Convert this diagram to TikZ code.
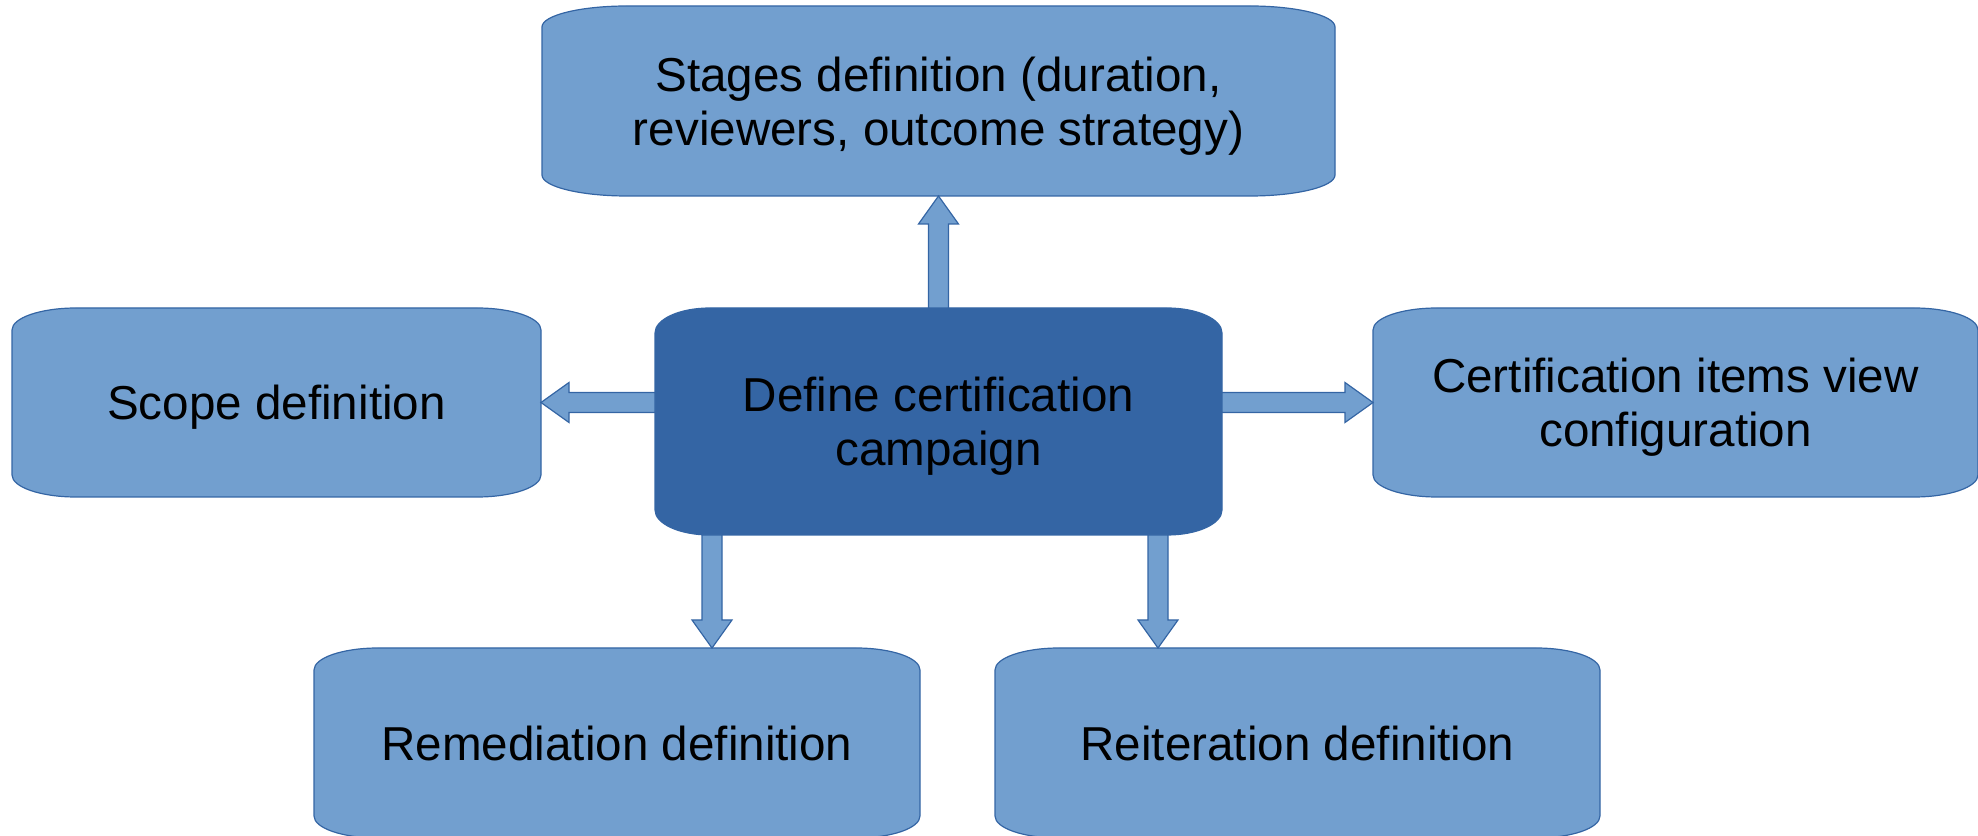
\documentclass[tikz,border=0pt]{standalone}
\usepackage{fontspec}
\setmainfont{Liberation Sans}
\usepackage{xcolor}
\usepackage{tikz}
\usetikzlibrary{calc,backgrounds}
\definecolor{lightblue}{HTML}{729FCF}
\definecolor{darkblue}{HTML}{3465A4}
\newcommand{\ovalframe}[4]{%
  \draw[#4] ([xshift=#2]#1.north west) -- ([xshift=-#2]#1.north east)
    arc[start angle=90, end angle=0, x radius=#2, y radius=#3]
    -- ([yshift=#3]#1.south east)
    arc[start angle=0, end angle=-90, x radius=#2, y radius=#3]
    -- ([xshift=#2]#1.south west)
    arc[start angle=270, end angle=180, x radius=#2, y radius=#3]
    -- ([yshift=-#3]#1.north west)
    arc[start angle=180, end angle=90, x radius=#2, y radius=#3] -- cycle;}
\newcommand{\fatarrow}[2]{%
  \draw[fatarrow] let \p1=(#1), \p2=(#2),
    \n1={atan2(\y2-\y1,\x2-\x1)}, \n2={veclen(\x2-\x1,\y2-\y1)} in
    ($(\p1)+(\n1+90:5pt)$)
    -- ($(\p1)+(\n1:{\n2*1pt-14pt})+(\n1+90:5pt)$)
    -- ($(\p1)+(\n1:{\n2*1pt-14pt})+(\n1+90:10pt)$)
    -- (\p2)
    -- ($(\p1)+(\n1:{\n2*1pt-14pt})+(\n1-90:10pt)$)
    -- ($(\p1)+(\n1:{\n2*1pt-14pt})+(\n1-90:5pt)$)
    -- ($(\p1)+(\n1-90:5pt)$) -- cycle;}

\begin{document}
\begin{tikzpicture}[x=0.5pt,y=0.5pt,
  textbox/.style={inner sep=0pt,outer sep=0pt,align=center,text depth=0pt,
    font=\fontsize{23.8pt}{27pt}\selectfont},
  lightfill/.style={fill=lightblue,draw=darkblue,line width=0.6pt},
  darkfill/.style={fill=darkblue,draw=darkblue,line width=0.6pt},
  fatarrow/.style={fill=lightblue,draw=darkblue,line width=0.6pt,line join=miter}]
\useasboundingbox (0,0) rectangle (1978,836);
\node[textbox,minimum width=396.5pt,minimum height=95pt] (stages) at (938.5,735) {Stages definition (duration,\\reviewers, outcome strategy)};
\node[textbox,minimum width=283.5pt,minimum height=113.5pt] (campaign) at (938.5,414.5) {Define certification\\campaign};
\node[textbox,minimum width=264.5pt,minimum height=94.5pt] (scope) at (276.5,433.5) {Scope definition};
\node[textbox,minimum width=302.5pt,minimum height=94.5pt] (items) at (1675.5,433.5) {Certification items view\\configuration};
\node[textbox,minimum width=303pt,minimum height=95pt] (remediation) at (617,93) {Remediation definition};
\node[textbox,minimum width=302.5pt,minimum height=95pt] (reiteration) at (1297.5,93) {Reiteration definition};
\coordinate (remtip) at ([xshift=47.5pt]remediation.north);
\coordinate (reitip) at ([xshift=-69.75pt]reiteration.north);
\begin{scope}[on background layer]
\ovalframe{stages}{42.5pt}{10.5pt}{lightfill}
\ovalframe{campaign}{27.5pt}{12.5pt}{darkfill}
\ovalframe{scope}{32pt}{11pt}{lightfill}
\ovalframe{items}{32pt}{11pt}{lightfill}
\ovalframe{remediation}{32pt}{11pt}{lightfill}
\ovalframe{reiteration}{32pt}{11pt}{lightfill}
\end{scope}
\fatarrow{campaign.north}{stages.south}
\fatarrow{campaign.west |- scope.east}{scope.east}
\fatarrow{campaign.east |- items.west}{items.west}
\fatarrow{campaign.south -| remtip}{remtip}
\fatarrow{campaign.south -| reitip}{reitip}
\end{tikzpicture}
\end{document}
